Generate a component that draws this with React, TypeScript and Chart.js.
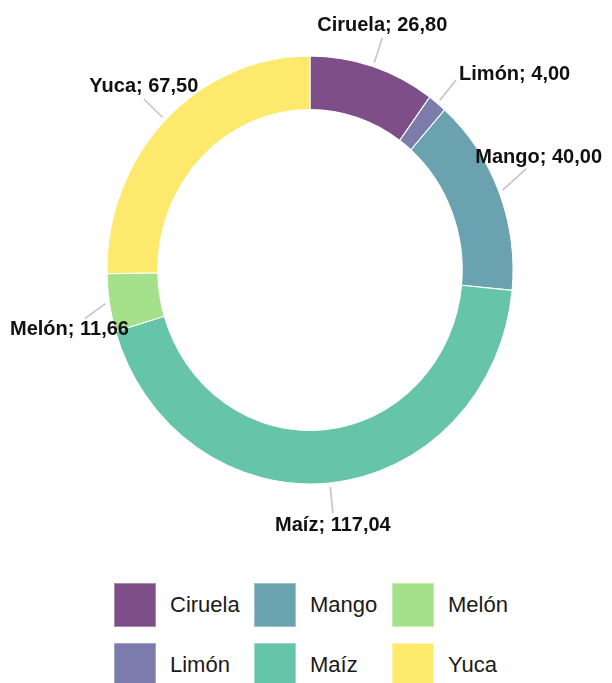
import React, { useEffect, useRef } from 'react';
import { Chart, registerables } from 'chart.js';

Chart.register(...registerables);

// ---- data ----
const categories = ['Ciruela', 'Limón', 'Mango', 'Maíz', 'Melón', 'Yuca'];
const values = [26.8, 4.0, 40.0, 117.04, 11.66, 67.5];
const colors = ['#7d4e88', '#7b7cab', '#6aa2b0', '#66c4a9', '#a5e08a', '#fdea6c'];
const legendBorders = ['#a98bb0', '#a3a4c6', '#9cc3cc', '#9bdac8', '#c6ebb3', '#fef3a6'];

const fmt = (v: number) => v.toFixed(2).replace('.', ',');

// ---- style constants ----
const SY = 214 / 203; // vertical stretch of the ring
const LABEL_FONT = 'bold 20px "Liberation Sans", Arial, sans-serif';
const LINE_START = 4;
const LINE_END = 30;
const LABEL_H = 20;
const EDGE_MARGIN = 10;

const ellipsePlugin = {
  id: 'ellipseStretch',
  beforeDatasetsDraw(chart: any) {
    const el = chart.getDatasetMeta(0).data[0];
    if (!el) return;
    const ctx = chart.ctx;
    ctx.save();
    ctx.translate(el.x, el.y);
    ctx.scale(1, SY);
    ctx.translate(-el.x, -el.y);
  },
  afterDatasetsDraw(chart: any) {
    chart.ctx.restore();
  },
};

const outerLabelPlugin = {
  id: 'outerLabels',
  afterDraw(chart: any) {
    const ctx = chart.ctx;
    const meta = chart.getDatasetMeta(0);
    const W = chart.width;
    ctx.save();
    ctx.font = LABEL_FONT;
    ctx.textBaseline = 'middle';
    ctx.textAlign = 'left';
    meta.data.forEach((el: any, i: number) => {
      const { x: cx, y: cy, startAngle, endAngle, outerRadius } = el.getProps(
        ['x', 'y', 'startAngle', 'endAngle', 'outerRadius'],
        true
      );
      const a = (startAngle + endAngle) / 2;
      const c = Math.cos(a);
      const s = Math.sin(a);
      const rx = outerRadius;
      const ry = outerRadius * SY;
      const pt = (d: number) => ({ x: cx + (rx + d) * c, y: cy + (ry + d) * s });
      const E = pt(LINE_START);
      const L = pt(LINE_END);
      const text = `${categories[i]}; ${fmt(values[i])}`;
      const w = ctx.measureText(text).width;
      let deg = ((a + Math.PI / 2) * 180) / Math.PI;
      deg = ((deg % 360) + 360) % 360;
      const g = 3;
      const H = LABEL_H;
      let bx: number;
      let by: number;
      if (deg < 30 || deg >= 310) {
        bx = L.x;
        by = L.y - g - H / 2;
      } else if (deg < 60) {
        bx = L.x + g + w / 2;
        by = L.y - H * 0.25;
      } else if (deg < 120) {
        bx = L.x + g + w / 2;
        by = L.y;
      } else if (deg < 150) {
        bx = L.x + g + w / 2;
        by = L.y + H * 0.25;
      } else if (deg < 210) {
        bx = L.x;
        by = L.y + g + H / 2;
      } else if (deg < 240) {
        bx = L.x - g - w / 2;
        by = L.y + H * 0.25;
      } else {
        bx = L.x - g - w / 2;
        by = L.y;
      }
      let dx = 0;
      if (bx - w / 2 < EDGE_MARGIN) dx = EDGE_MARGIN - (bx - w / 2);
      else if (bx + w / 2 > W - EDGE_MARGIN) dx = W - EDGE_MARGIN - (bx + w / 2);
      let end = L;
      if (dx !== 0) {
        bx += dx;
        by += (s >= 0 ? 1 : -1) * Math.abs(dx) * 0.42;
        const dirx = bx - E.x;
        const diry = by - E.y;
        const hw = w / 2 + 1;
        const hh = H / 2 + 1;
        const tx = Math.abs(dirx) > 1e-6 ? 1 - hw / Math.abs(dirx) : -Infinity;
        const ty = Math.abs(diry) > 1e-6 ? 1 - hh / Math.abs(diry) : -Infinity;
        const t = Math.max(0, Math.max(tx, ty));
        end = { x: E.x + dirx * t, y: E.y + diry * t };
      }
      ctx.strokeStyle = '#c4c4c4';
      ctx.lineWidth = 1.6;
      ctx.beginPath();
      ctx.moveTo(E.x, E.y);
      ctx.lineTo(end.x, end.y);
      ctx.stroke();
      ctx.fillStyle = '#111111';
      ctx.fillText(text, bx - w / 2, by);
    });
    ctx.restore();
  },
};

function Legend() {
  return (
    <div
      style={{
        position: 'absolute',
        left: 114,
        top: 583,
        display: 'grid',
        gridTemplateColumns: '140px 138px auto',
        gridTemplateRows: '60px 60px',
        gridAutoFlow: 'column',
        fontFamily: '"Liberation Sans", Arial, sans-serif',
        fontSize: 22,
        color: '#1a1a1a',
      }}
    >
      {categories.map((cat, i) => (
        <div key={cat} style={{ display: 'flex', alignItems: 'flex-start' }}>
          <div
            style={{
              width: 42,
              height: 44,
              boxSizing: 'border-box',
              background: colors[i],
              border: `1px solid ${legendBorders[i]}`,
            }}
          />
          <span style={{ marginLeft: 14, lineHeight: '44px' }}>{cat}</span>
        </div>
      ))}
    </div>
  );
}

export default function App() {
  const ref = useRef<HTMLCanvasElement | null>(null);

  useEffect(() => {
    if (!ref.current) return;
    const chart = new Chart(ref.current, {
      type: 'doughnut',
      data: {
        labels: categories,
        datasets: [
          {
            data: values,
            backgroundColor: colors,
            borderColor: '#ffffff',
            borderWidth: 1,
            clip: false as any,
          } as any,
        ],
      },
      options: {
        responsive: false,
        animation: false,
        cutout: '75%',
        layout: {
          padding: { left: 106.5, right: 98.5, top: 66.5, bottom: 86.5 },
        },
        plugins: {
          legend: { display: false },
          tooltip: { enabled: false },
        },
      },
      plugins: [ellipsePlugin, outerLabelPlugin],
    });
    return () => chart.destroy();
  }, []);

  return (
    <div
      style={{
        position: 'fixed',
        left: 0,
        top: 0,
        width: 612,
        height: 683,
        background: '#ffffff',
        overflow: 'hidden',
      }}
    >
      <canvas
        ref={ref}
        width={612}
        height={560}
        style={{ position: 'absolute', left: 0, top: 0, width: 612, height: 560 }}
      />
      <Legend />
    </div>
  );
}
